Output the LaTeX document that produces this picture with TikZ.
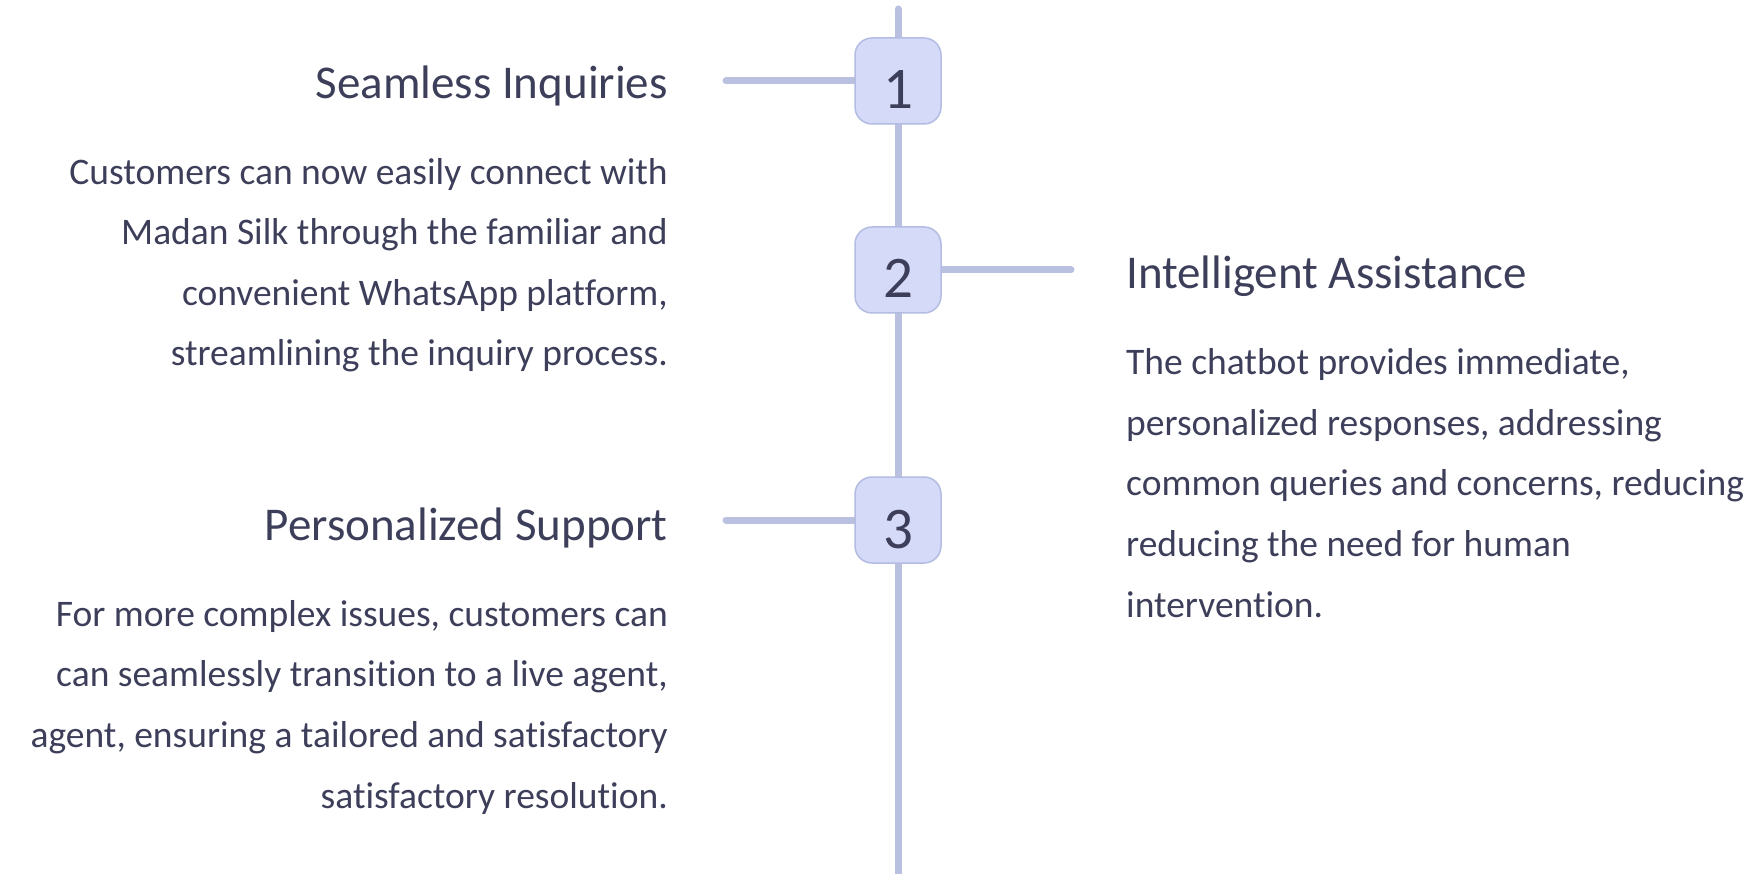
\documentclass[tikz,border=0pt]{standalone}
\usepackage{fontspec}
\setmainfont{Carlito}[Ligatures=NoCommon]
\usetikzlibrary{backgrounds}
\definecolor{ink}{HTML}{3D3F5A}
\definecolor{rail}{HTML}{B9C0E0}
\definecolor{boxfill}{HTML}{D4DAF8}
\definecolor{boxline}{HTML}{B3BCE2}
\begin{document}
\begin{tikzpicture}[x=1pt,y=-1pt,
  stepnum/.style={draw=boxline, line width=1.5pt, fill=boxfill, rounded corners=17pt,
    minimum width=86pt, minimum height=86pt, inner sep=0pt,
    text height=56pt, text depth=0pt, font=\fontsize{59}{59}\selectfont, text=ink},
  railline/.style={draw=rail, line width=7pt, line cap=round},
  title/.style={font=\fontsize{47}{47}\selectfont, text=ink, inner sep=0pt},
  body/.style={font=\fontsize{37.5}{60.6}\selectfont, text=ink, inner sep=0pt},
]
\useasboundingbox (0,0) rectangle (1764,874);

% numbered steps on the timeline
\node[stepnum] (n1) at (898,81) {1};
\node[stepnum] (n2) at (898,270) {2};
\node[stepnum] (n3) at (898,520) {3};

% rail ends and branch ends
\coordinate (railtop) at (898,9);
\coordinate (railbot) at (898,884);
\coordinate (e1) at (726,81);
\coordinate (e2) at (1071,270);
\coordinate (e3) at (726,520);

\begin{scope}[on background layer]
  \draw[railline] (railtop) -- (railbot);
  \draw[railline] (e1) -- (n1.center);
  \draw[railline] (e2) -- (n2.center);
  \draw[railline] (e3) -- (n3.center);
\end{scope}

% step 1 (body anchored at the baseline of its last line)
\node[title, anchor=base east] (t1) at (668,99) {Seamless Inquiries};
\node[body, anchor=base east, align=right] (b1) at (668,366)
  {Customers can now easily connect with\\Madan Silk through the familiar and\\convenient WhatsApp platform,\\streamlining the inquiry process.};

% step 2
\node[title, anchor=base west] (t2) at (1126,289) {Intelligent Assistance};
\node[body, anchor=base west, align=left] (b2) at (1126,617)
  {The chatbot provides immediate,\\personalized responses, addressing\\common queries and concerns, reducing\\reducing the need for human\\intervention.};

% step 3
\node[title, anchor=base east] (t3) at (668,540) {Personalized Support};
\node[body, anchor=base east, align=right] (b3) at (668,808)
  {For more complex issues, customers can\\can seamlessly transition to a live agent,\\agent, ensuring a tailored and satisfactory\\satisfactory resolution.};
\end{tikzpicture}
\end{document}
